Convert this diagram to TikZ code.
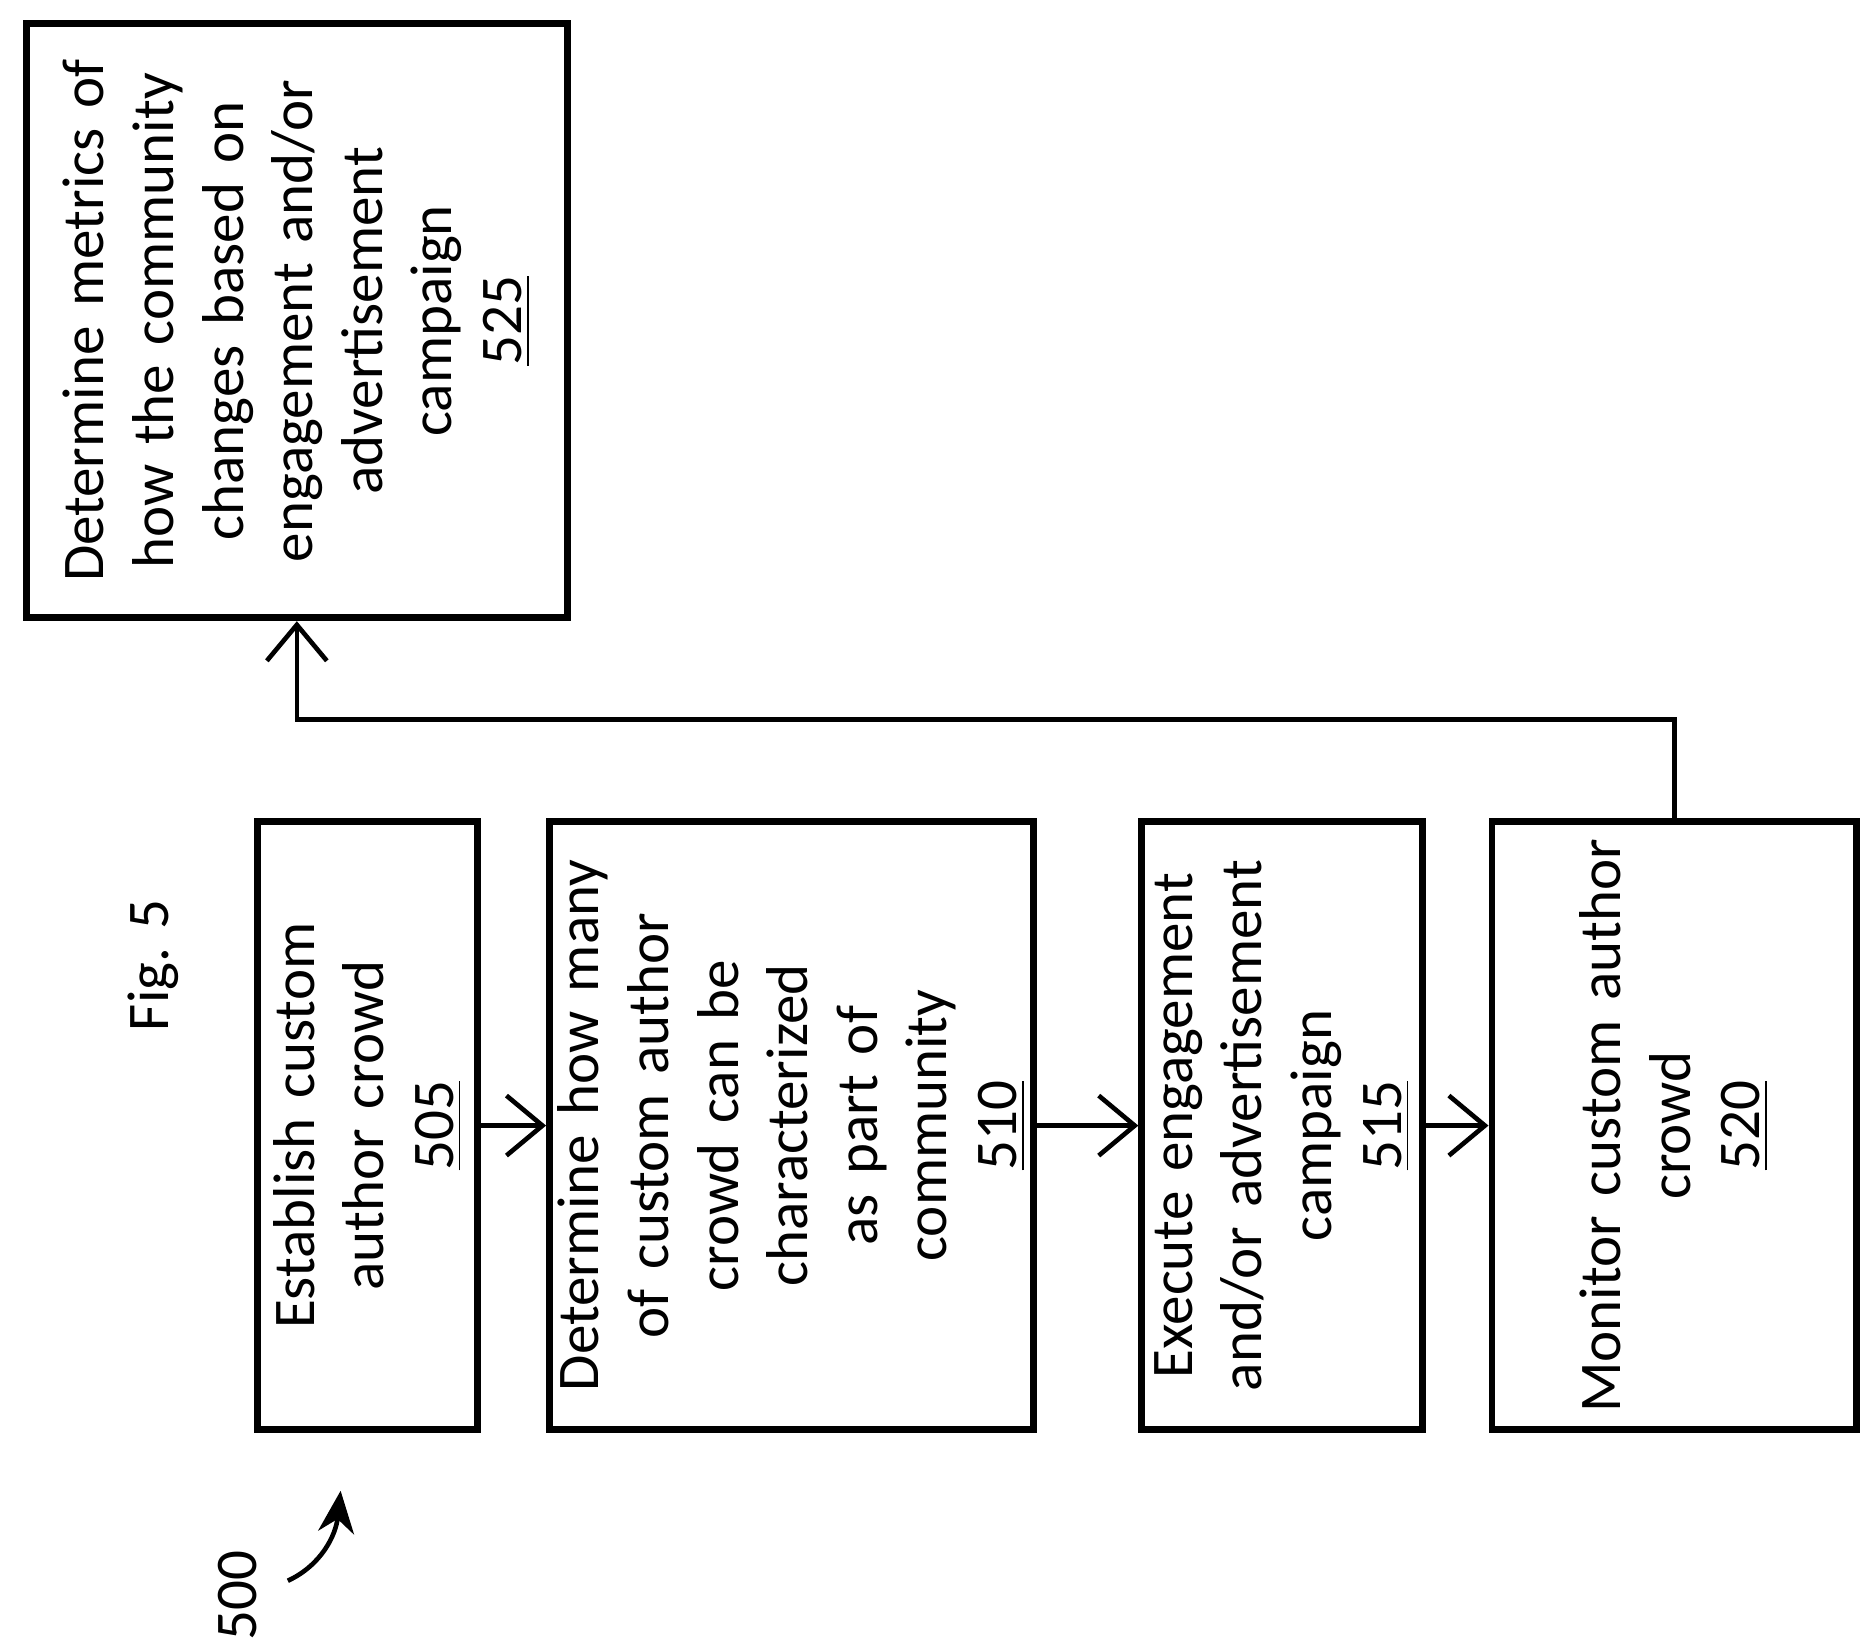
\documentclass[tikz,border=0pt]{standalone}
\usepackage{fontspec}
\setmainfont{Carlito}
\usetikzlibrary{arrows.meta, positioning}

\begin{document}
\begin{tikzpicture}[x=0.01cm, y=-0.01cm,
    stepbox/.style={draw, line width=1.6pt, rotate=90, align=center,
        font=\fontsize{14}{16.5}\selectfont, inner sep=2pt},
    flow/.style={line width=1.1pt, -{Straight Barb[length=3mm, width=5mm, line width=1.1pt]}}]
        \useasboundingbox (0,0) rectangle (1560,1374);
        \node[stepbox, minimum width=4.95cm, minimum height=4.51cm, text width=4.4cm] (m) at (247.5,267.5)
            {Determine metrics of\\how the community\\changes based on\\engagement and/or\\advertisement\\campaign\\\underline{525}};
        \node[stepbox, minimum width=5.07cm, minimum height=1.83cm, text width=4.8cm] (e) at (306.5,938.5)
            {Establish custom\\author crowd\\\underline{505}};
        \node[stepbox, minimum width=5.07cm, minimum height=3.8cm, text width=4.8cm] (d) at (660,938.5)
            {Determine how many\\of custom author\\crowd can be\\characterized as part of\\community\\\underline{510}};
        \node[stepbox, minimum width=5.07cm, minimum height=2.34cm, text width=4.8cm] (x) at (1069,938.5)
            {Execute engagement\\and/or advertisement\\campaign\\\underline{515}};
        \node[stepbox, minimum width=5.07cm, minimum height=3.04cm, text width=4.8cm] (o) at (1396,938.5)
            {Monitor custom author\\crowd\\\underline{520}};
        \node[rotate=90, font=\fontsize{14}{16.5}\selectfont] (fig) at (128,805) {Fig. 5};
        \node[rotate=90, font=\fontsize{14}{16.5}\selectfont] (lbl) at (198,1330) {500};
        \coordinate (turn) at (1396,600);
        \draw[flow] (e) -- (d);
        \draw[flow] (d) -- (x);
        \draw[flow] (x) -- (o);
        \draw[flow] (o.east) -- (turn) -| (m.west);
        \draw[line width=1.1pt, -{Stealth[length=3.5mm, width=3mm]}] (240,1318) .. controls (268,1305) and (280,1280) .. (284,1243);
    \end{tikzpicture}
\end{document}
